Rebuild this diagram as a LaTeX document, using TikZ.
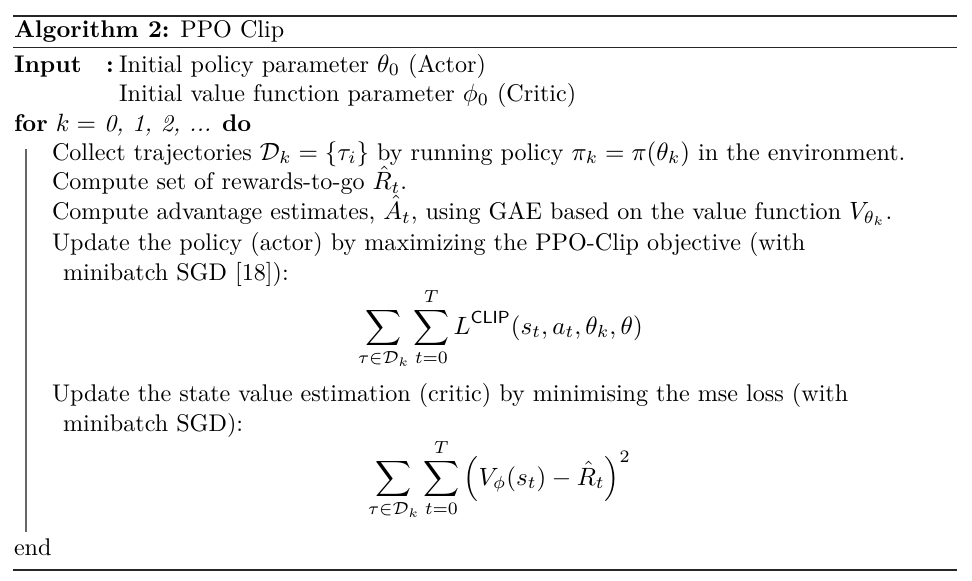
\documentclass[tikz,border=0pt]{standalone}
\usepackage{amsmath}
\begin{document}
\begin{tikzpicture}[x=0.4pt,y=-0.4pt,
  txt/.style={anchor=base west,inner sep=0pt,outer sep=0pt,font=\fontsize{9.65}{11.6}\selectfont},
  heavyrule/.style={line width=0.8pt,black!85},
  lightrule/.style={line width=0.6pt,black!85},
  blockbar/.style={line width=0.45pt,black!60}]
\useasboundingbox (0,0) rectangle (972,580);
% rules
\draw[heavyrule] (13,15.5) -- (957,15.5);
\draw[lightrule] (13,47.7) -- (957,47.7);
\draw[heavyrule] (13,570) -- (957,570);
% block bar
\draw[blockbar] (26,149) -- (26,532);
% title
\node[txt] (title) at (14,37) {\textbf{Algorithm 2:} PPO Clip};
% input
\node[txt] (inlab) at (14,72) {\textbf{Input}};
\node[txt] (colon) at (106,72) {\textbf{:}};
\node[txt] (in1) at (119,72) {Initial policy parameter $\theta_0$ (Actor)};
\node[txt] (in2) at (119,101.5) {Initial value function parameter $\phi_0$ (Critic)};
% for
\node[txt] (for) at (14,131.5) {\textbf{for} $k =$ \textit{0, 1, 2, ...} \textbf{do}};
\node[txt] (l1) at (52,160) {Collect trajectories $\mathcal{D}_k=\{\tau_i\}$ by running policy $\pi_k=\pi(\theta_k)$ in the environment.};
\node[txt] (l2) at (52,189.5) {Compute set of rewards-to-go $\hat{R}_t$.};
\node[txt] (l3) at (52,219.3) {Compute advantage estimates, $\hat{A}_t$, using GAE based on the value function $V_{\theta_k}$.};
\node[txt] (l4) at (52,250.7) {Update the policy (actor) by maximizing the PPO-Clip objective (with};
\node[txt] (l4b) at (63,280) {minibatch SGD [18]):};
\node[txt] (eq1) at (358,334) {$\displaystyle \sum_{\tau\in\mathcal{D}_k}\sum_{t=0}^{T} L^{\mathsf{CLIP}}(s_t,a_t,\theta_k,\theta)$};
\node[txt] (l5) at (52,401.7) {Update the state value estimation (critic) by minimising the mse loss (with};
\node[txt] (l5b) at (63,431.7) {minibatch SGD):};
\node[txt] (eq2) at (368,485) {$\displaystyle \sum_{\tau\in\mathcal{D}_k}\sum_{t=0}^{T} \left(V_{\phi}(s_t)-\hat{R}_t\right)^2$};
\node[txt] (endw) at (14,555) {end};
\end{tikzpicture}
\end{document}
